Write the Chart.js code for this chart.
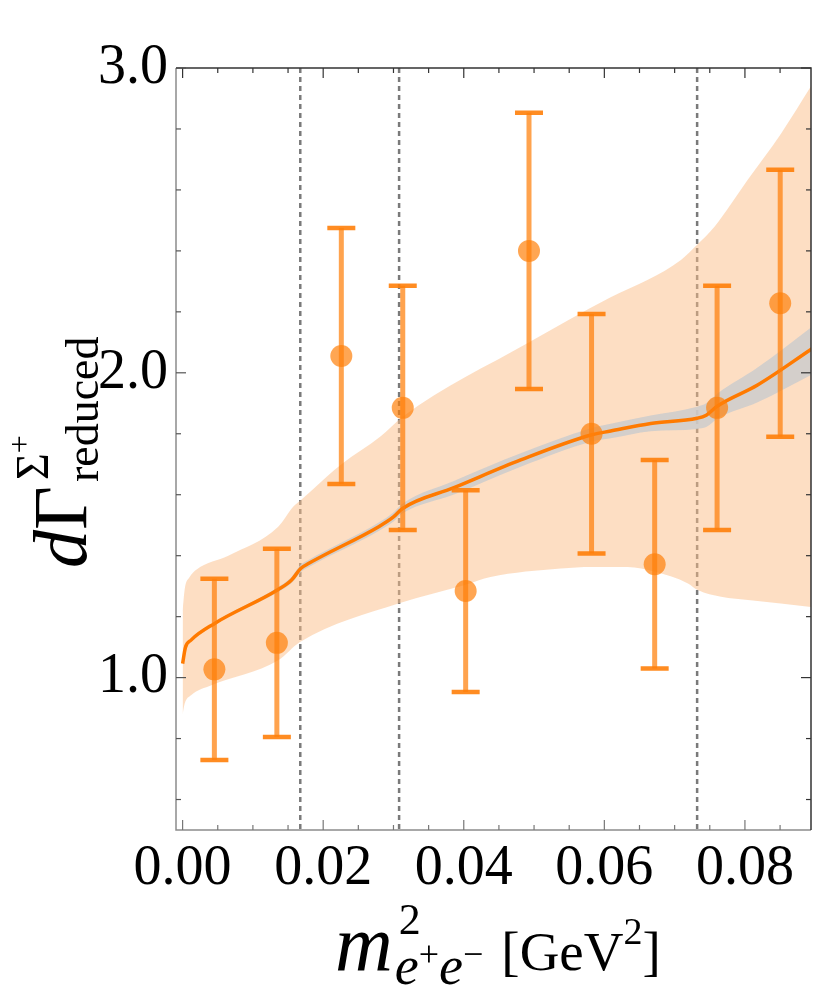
<!DOCTYPE html>
<html>
<head>
<meta charset="utf-8">
<script src="https://cdn.jsdelivr.net/npm/chart.js@4.4.1/dist/chart.umd.min.js"></script>
<style>
  html, body { margin: 0; padding: 0; background: #fff; overflow: hidden; width: 814px; height: 995px; }
  canvas { display: block; }
</style>
</head>
<body>
<canvas id="c" width="822" height="995"></canvas>
<script>
// binned data points (bin centre, value, symmetric error)
const binX = [0.00452, 0.01341, 0.02258, 0.03132, 0.04027, 0.04928, 0.05818, 0.06716, 0.07604, 0.08502];
const binY = [1.027, 1.114, 2.055, 1.885, 1.284, 2.400, 1.800, 1.372, 1.885, 2.228];
const binErr = [0.297, 0.309, 0.420, 0.401, 0.331, 0.453, 0.393, 0.342, 0.401, 0.438];

// central prediction and its narrow (grey) band
const curveX = [0, 0.0004, 0.0012, 0.0045, 0.0136, 0.0155, 0.0168, 0.0179, 0.0279, 0.0300, 0.0313, 0.0386, 0.0481, 0.0581, 0.0609, 0.0666, 0.0732, 0.0745, 0.0761, 0.0818, 0.0896];
const curveY = [1.046, 1.099, 1.123, 1.177, 1.289, 1.320, 1.358, 1.374, 1.495, 1.527, 1.555, 1.623, 1.714, 1.796, 1.809, 1.834, 1.851, 1.861, 1.891, 1.960, 2.080];
const grayHi = [1.049, 1.102, 1.126, 1.181, 1.297, 1.330, 1.370, 1.386, 1.509, 1.542, 1.571, 1.645, 1.736, 1.818, 1.833, 1.860, 1.889, 1.900, 1.932, 2.017, 2.152];
const grayLo = [1.043, 1.096, 1.120, 1.173, 1.281, 1.310, 1.346, 1.362, 1.481, 1.512, 1.539, 1.601, 1.692, 1.774, 1.785, 1.808, 1.816, 1.822, 1.850, 1.903, 1.995];

// wide (orange) band
const bandUpX = [0, 0.0003, 0.001, 0.002, 0.0065, 0.0136, 0.0157, 0.0168, 0.0184, 0.0226, 0.0281, 0.0313, 0.0493, 0.0609, 0.0662, 0.0709, 0.0732, 0.0757, 0.0804, 0.0852, 0.0894];
const bandUpY = [1.22, 1.29, 1.33, 1.355, 1.40, 1.495, 1.56, 1.582, 1.615, 1.70, 1.79, 1.856, 2.10, 2.248, 2.305, 2.37, 2.42, 2.48, 2.633, 2.787, 2.94];
const bandLoX = [0, 0.0003, 0.0012, 0.0041, 0.0136, 0.0167, 0.0308, 0.0403, 0.0438, 0.0538, 0.0582, 0.0633, 0.0672, 0.0719, 0.0733, 0.0766, 0.0808, 0.0894];
const bandLoY = [0.88, 0.915, 0.942, 0.975, 1.057, 1.117, 1.244, 1.305, 1.33, 1.358, 1.363, 1.363, 1.347, 1.309, 1.287, 1.265, 1.254, 1.232];

// thresholds (dashed verticals)
const dashX = [0.01674, 0.0308, 0.0732];

// axes
const xTicks = [0, 0.02, 0.04, 0.06, 0.08];
const yTicks = [1.0, 2.0, 3.0];
const xMinor = [0.005, 0.01, 0.015, 0.025, 0.03, 0.035, 0.045, 0.05, 0.055, 0.065, 0.07, 0.075, 0.085];
const yMinor = [0.6, 0.8, 1.2, 1.4, 1.6, 1.8, 2.2, 2.4, 2.6, 2.8];

const SERIF = '"Liberation Serif", "DejaVu Serif", serif';
const ORANGE = 'rgba(255,128,10,0.72)';

const pts = (xs, ys) => xs.map((x, i) => ({ x: x, y: ys[i] }));

const backgroundPlugin = {
    id: 'thresholds',
    beforeDatasetsDraw(chart) {
        const { ctx, chartArea, scales } = chart;
        ctx.save();
        ctx.strokeStyle = '#7a7a7a';
        ctx.lineWidth = 2.5;
        ctx.setLineDash([5, 4]);
        dashX.forEach(v => {
            const px = scales.x.getPixelForValue(v);
            ctx.beginPath();
            ctx.moveTo(px, chartArea.top);
            ctx.lineTo(px, chartArea.bottom);
            ctx.stroke();
        });
        ctx.restore();
    }
};

const errorBarPlugin = {
    id: 'errorBars',
    afterDatasetDraw(chart, args) {
        if (args.index !== 2) return; // after the central curve, before the points
        const { ctx, scales } = chart;
        ctx.save();
        binX.forEach((x, i) => {
            const px = scales.x.getPixelForValue(x);
            const top = scales.y.getPixelForValue(binY[i] + binErr[i]);
            const bot = scales.y.getPixelForValue(binY[i] - binErr[i]);
            ctx.strokeStyle = ORANGE;
            ctx.lineWidth = 5;
            ctx.beginPath();
            ctx.moveTo(px, top);
            ctx.lineTo(px, bot);
            ctx.stroke();
            ctx.strokeStyle = 'rgba(255,128,10,0.9)';
            ctx.lineWidth = 4.5;
            ctx.beginPath();
            ctx.moveTo(px - 14, top);
            ctx.lineTo(px + 14, top);
            ctx.moveTo(px - 14, bot);
            ctx.lineTo(px + 14, bot);
            ctx.stroke();
        });
        ctx.restore();
    }
};

const framePlugin = {
    id: 'frame',
    afterDraw(chart) {
        const { ctx, chartArea: a, scales } = chart;
        ctx.save();
        // frame
        ctx.lineWidth = 1.5;
        ctx.strokeStyle = '#8c8c8c';
        ctx.beginPath();
        ctx.moveTo(a.left, a.top); ctx.lineTo(a.left, a.bottom); ctx.lineTo(a.right, a.bottom);
        ctx.stroke();
        ctx.strokeStyle = '#333';
        ctx.beginPath();
        ctx.moveTo(a.left, a.top); ctx.lineTo(a.right, a.top); ctx.lineTo(a.right, a.bottom);
        ctx.stroke();
        // ticks on all four sides, pointing inward
        ctx.lineWidth = 1.2;
        const xt = (v, len) => {
            const px = scales.x.getPixelForValue(v);
            ctx.strokeStyle = '#777';
            ctx.beginPath(); ctx.moveTo(px, a.bottom); ctx.lineTo(px, a.bottom - len); ctx.stroke();
            ctx.strokeStyle = '#333';
            ctx.beginPath(); ctx.moveTo(px, a.top); ctx.lineTo(px, a.top + len); ctx.stroke();
        };
        const yt = (v, len) => {
            const py = scales.y.getPixelForValue(v);
            ctx.strokeStyle = '#555';
            ctx.beginPath(); ctx.moveTo(a.left, py); ctx.lineTo(a.left + len, py); ctx.stroke();
            ctx.strokeStyle = '#333';
            ctx.beginPath(); ctx.moveTo(a.right, py); ctx.lineTo(a.right - len, py); ctx.stroke();
        };
        xTicks.forEach(v => xt(v, 10));
        xMinor.forEach(v => xt(v, 5));
        yTicks.forEach(v => yt(v, 10));
        yMinor.forEach(v => yt(v, 5));

        // axis titles
        ctx.fillStyle = '#000';
        ctx.textBaseline = 'alphabetic';
        ctx.textAlign = 'left';
        // x title: m^2_{e+e-} [GeV^2]
        let cx = 335;
        const by = 970;
        ctx.font = 'italic 80px ' + SERIF;
        ctx.fillText('m', cx, by);
        cx += ctx.measureText('m').width + 2;
        ctx.font = '44px ' + SERIF;
        ctx.fillText('2', cx + 4, by - 36);
        let sx = cx;
        ctx.font = 'italic 54px ' + SERIF;
        ctx.fillText('e', sx, by + 14);
        sx += ctx.measureText('e').width;
        ctx.font = '36px ' + SERIF;
        ctx.fillText('+', sx, by - 4);
        sx += ctx.measureText('+').width;
        ctx.font = 'italic 54px ' + SERIF;
        ctx.fillText('e', sx, by + 14);
        sx += ctx.measureText('e').width;
        ctx.font = '36px ' + SERIF;
        ctx.fillText('\u2212', sx, by - 4);
        sx += ctx.measureText('\u2212').width + 18;
        ctx.font = '55px ' + SERIF;
        ctx.fillText('[GeV', sx, by);
        sx += ctx.measureText('[GeV').width;
        ctx.font = '38px ' + SERIF;
        ctx.fillText('2', sx, by - 26);
        sx += ctx.measureText('2').width;
        ctx.font = '55px ' + SERIF;
        ctx.fillText(']', sx, by);

        // y title: dΓ^{Σ+}_{reduced}, rotated
        ctx.translate(86, 568);
        ctx.rotate(-Math.PI / 2);
        let lx = 0;
        ctx.font = 'italic 76px ' + SERIF;
        ctx.fillText('d', lx, 0);
        lx += ctx.measureText('d').width;
        ctx.font = '76px ' + SERIF;
        ctx.fillText('\u0393', lx, 0);
        lx += ctx.measureText('\u0393').width + 4;
        ctx.font = '46px ' + SERIF;
        ctx.fillText('reduced', lx, 12);
        ctx.fillText('\u03A3', lx + 2, -38);
        const sw = ctx.measureText('\u03A3').width;
        ctx.font = '32px ' + SERIF;
        ctx.fillText('+', lx + 2 + sw, -56);
        ctx.restore();
    }
};

new Chart(document.getElementById('c'), {
    type: 'scatter',
    data: {
        datasets: [
            {   // 0: wide band upper edge, filled down to lower edge
                data: pts(bandUpX, bandUpY),
                showLine: true, pointRadius: 0, borderWidth: 0,
                borderColor: 'rgba(0,0,0,0)',
                backgroundColor: 'rgba(251,189,135,0.5)',
                fill: '+1', cubicInterpolationMode: 'monotone', order: 6
            },
            {   // 1: wide band lower edge
                data: pts(bandLoX, bandLoY),
                showLine: true, pointRadius: 0, borderWidth: 0,
                borderColor: 'rgba(0,0,0,0)',
                fill: false, cubicInterpolationMode: 'monotone', order: 5
            },
            {   // 2: central curve
                data: pts(curveX, curveY),
                showLine: true, pointRadius: 0, borderWidth: 3.5,
                borderColor: '#ff7a00', fill: false,
                cubicInterpolationMode: 'monotone', order: 2
            },
            {   // 3: grey band upper
                data: pts(curveX, grayHi),
                showLine: true, pointRadius: 0, borderWidth: 0,
                borderColor: 'rgba(0,0,0,0)',
                backgroundColor: 'rgba(204,204,204,0.85)',
                fill: '+1', cubicInterpolationMode: 'monotone', order: 4
            },
            {   // 4: grey band lower
                data: pts(curveX, grayLo),
                showLine: true, pointRadius: 0, borderWidth: 0,
                borderColor: 'rgba(0,0,0,0)',
                fill: false, cubicInterpolationMode: 'monotone', order: 3
            },
            {   // 5: data points
                data: pts(binX, binY),
                pointRadius: 11, pointBorderWidth: 0,
                backgroundColor: 'rgba(255,128,10,0.7)', order: 1
            }
        ]
    },
    options: {
        responsive: false,
        animation: false,
        events: [],
        layout: { padding: { top: 68, right: 0, left: 0, bottom: 0 } },
        plugins: { legend: { display: false }, tooltip: { enabled: false } },
        scales: {
            x: {
                type: 'linear', min: -0.00094, max: 0.0894,
                grid: { display: false, drawTicks: false }, border: { display: false },
                afterBuildTicks: s => { s.ticks = xTicks.map(v => ({ value: v })); },
                afterFit: s => { s.height = 165; },
                ticks: {
                    color: '#000', padding: 6, maxRotation: 0,
                    font: { family: SERIF, size: 56 },
                    callback: v => v.toFixed(2)
                }
            },
            y: {
                type: 'linear', min: 0.5, max: 3.0,
                grid: { display: false, drawTicks: false }, border: { display: false },
                afterBuildTicks: s => { s.ticks = yTicks.map(v => ({ value: v })); },
                afterFit: s => { s.width = 176; },
                ticks: {
                    color: '#000', padding: 8,
                    font: { family: SERIF, size: 56 },
                    callback: v => v.toFixed(1)
                }
            }
        }
    },
    plugins: [backgroundPlugin, errorBarPlugin, framePlugin]
});
</script>
</body>
</html>
